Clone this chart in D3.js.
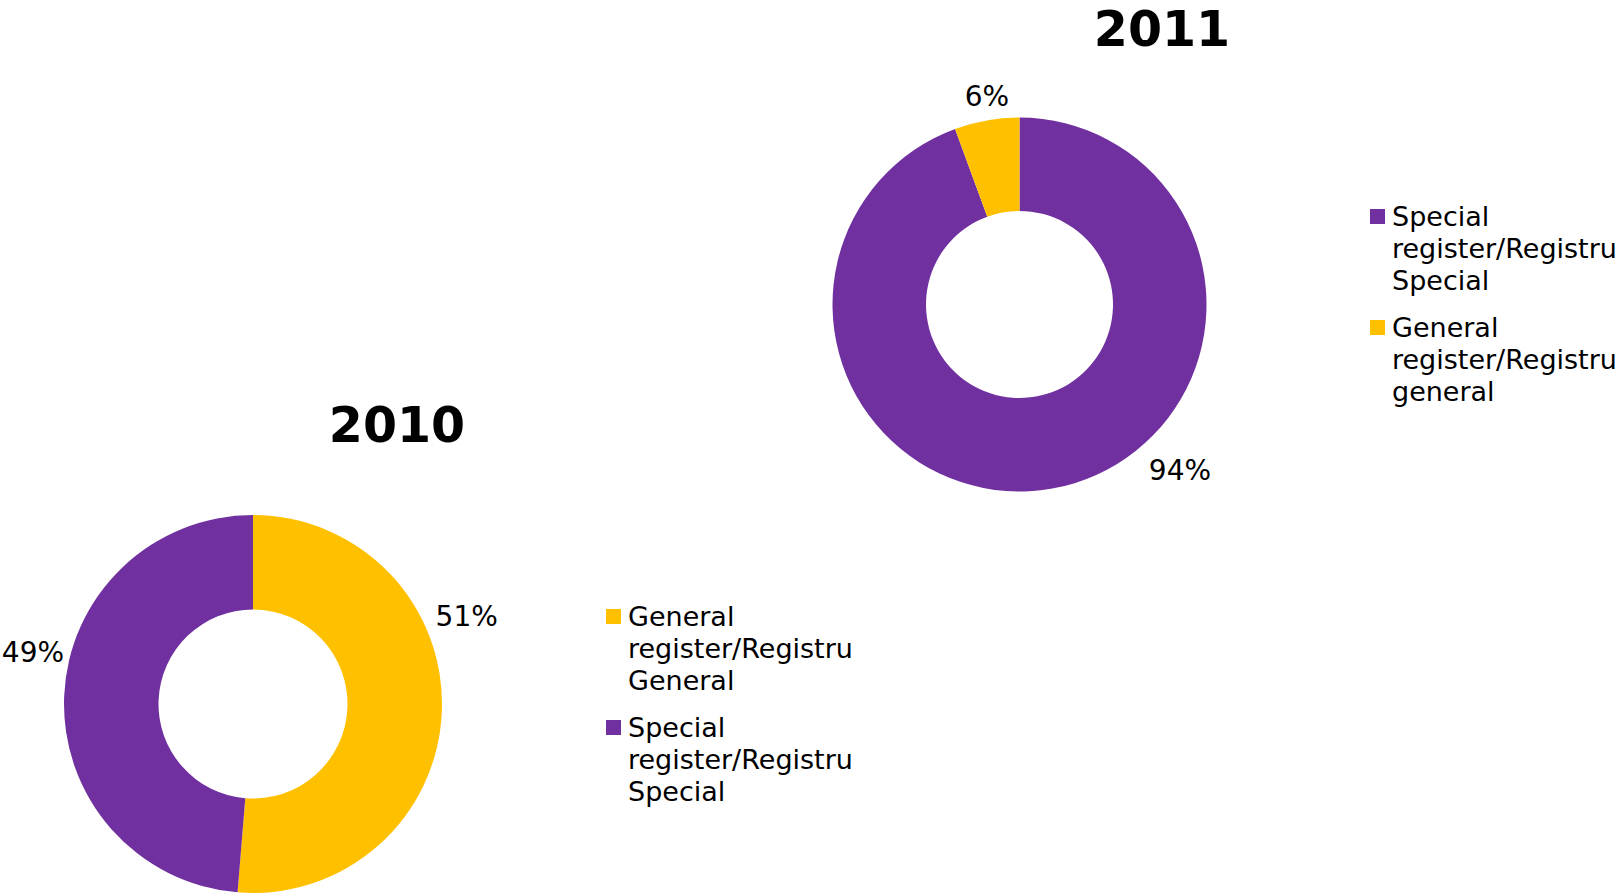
<!DOCTYPE html>
<html>
<head>
<meta charset="utf-8">
<script src="https://cdn.jsdelivr.net/npm/d3@7"></script>
<style>
  body { margin: 0; background: #fff; }
  svg text { font-family: "DejaVu Sans", Verdana, sans-serif; fill: #000; }
</style>
</head>
<body>
<svg id="chart"></svg>
<script>
const width = 1619;
const height = 895;

// Data
const years = ["2010", "2011"];
const categories2010 = ["General register/Registru General", "Special register/Registru Special"];
const values2010 = [51.3, 48.7];
const categories2011 = ["Special register/Registru Special", "General register/Registru general"];
const values2011 = [94.4, 5.6];

const colorOf = name => name.startsWith("General") ? "#FFC000" : "#7030A0";

const svg = d3.select("#chart")
    .attr("width", width)
    .attr("height", height);

// Layout of each donut, title, legend and label spots
const charts = [
    {
        year: years[0], categories: categories2010, values: values2010,
        cx: 253, cy: 704, r: 189,
        title: [397, 442],
        legend: [606, 609],
        labelSpots: [[67.7, 231], [283.2, 226]]
    },
    {
        year: years[1], categories: categories2011, values: values2011,
        cx: 1019.5, cy: 304.5, r: 187,
        title: [1162, 46],
        legend: [1370, 209],
        labelSpots: [[136, 231], [351.1, 211]]
    }
];

charts.forEach(c => {
    const pie = d3.pie().sort(null).value(d => d.value);
    const arcs = pie(c.categories.map((name, i) => ({ name, value: c.values[i] })));
    const arc = d3.arc().innerRadius(c.r * 0.5).outerRadius(c.r);

    const g = svg.append("g").attr("transform", `translate(${c.cx},${c.cy})`);

    g.selectAll("path")
        .data(arcs)
        .enter().append("path")
        .attr("d", arc)
        .attr("fill", d => colorOf(d.data.name));

    // Percentage labels outside the ring
    g.selectAll("text.pct")
        .data(arcs)
        .enter().append("text")
        .attr("class", "pct")
        .attr("x", (d, i) => c.labelSpots[i][1] * Math.sin(c.labelSpots[i][0] * Math.PI / 180))
        .attr("y", (d, i) => -c.labelSpots[i][1] * Math.cos(c.labelSpots[i][0] * Math.PI / 180))
        .attr("text-anchor", "middle")
        .attr("dy", "0.35em")
        .style("font-size", "28px")
        .text(d => Math.round(d.value) + "%");

    // Title
    svg.append("text")
        .attr("x", c.title[0])
        .attr("y", c.title[1])
        .attr("text-anchor", "middle")
        .style("font-size", "49px")
        .style("font-weight", "bold")
        .text(c.year);

    // Legend
    const lineH = 32;
    let y = c.legend[1];
    c.categories.forEach(name => {
        const words = name.split(" ");
        svg.append("rect")
            .attr("x", c.legend[0])
            .attr("y", y)
            .attr("width", 15)
            .attr("height", 15)
            .attr("fill", colorOf(name));
        const t = svg.append("text")
            .attr("x", c.legend[0] + 22)
            .attr("y", y + 17)
            .style("font-size", "27px");
        words.forEach((w, i) => {
            t.append("tspan")
                .attr("x", c.legend[0] + 22)
                .attr("dy", i === 0 ? 0 : lineH)
                .text(w);
        });
        y += words.length * lineH + 15;
    });
});
</script>
</body>
</html>
